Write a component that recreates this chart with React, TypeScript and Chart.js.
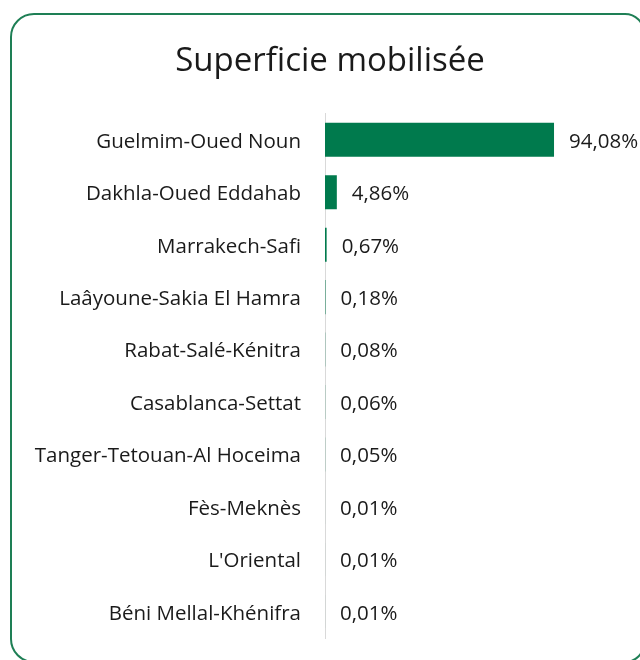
import React, { useEffect, useRef } from "react";
import { Chart, registerables } from "chart.js";

Chart.register(...registerables);

const chartTitle = "Superficie mobilisée";
const regions = [
  "Guelmim-Oued Noun",
  "Dakhla-Oued Eddahab",
  "Marrakech-Safi",
  "Laâyoune-Sakia El Hamra",
  "Rabat-Salé-Kénitra",
  "Casablanca-Settat",
  "Tanger-Tetouan-Al Hoceima",
  "Fès-Meknès",
  "L'Oriental",
  "Béni Mellal-Khénifra",
];
const shares = [94.08, 4.86, 0.67, 0.18, 0.08, 0.06, 0.05, 0.01, 0.01, 0.01];

const fmt = (v: number) => v.toFixed(2).replace(".", ",") + "%";
const FONT = "'Open Sans', Lato, sans-serif";
const GREEN = "#007A4D";
const LABEL_SIZE = 20.5;

export default function App() {
  const ref = useRef<HTMLCanvasElement>(null);
  useEffect(() => {
    if (!ref.current) return;
    const valuePlugin = {
      id: "valueLabels",
      afterDatasetsDraw(chart: any) {
        const ctx = chart.ctx;
        const meta = chart.getDatasetMeta(0);
        ctx.save();
        ctx.font = `${LABEL_SIZE}px ${FONT}`;
        ctx.fillStyle = "#1a1a1a";
        ctx.textBaseline = "middle";
        ctx.textAlign = "left";
        meta.data.forEach((bar: any, i: number) => {
          ctx.fillText(fmt(shares[i]), bar.x + 15, bar.y + 2);
        });
        ctx.restore();
      },
    };
    const chart = new Chart(ref.current, {
      type: "bar",
      data: {
        labels: regions,
        datasets: [
          {
            data: shares,
            backgroundColor: GREEN,
            borderWidth: 0,
            categoryPercentage: 1,
            barPercentage: 0.65,
          },
        ],
      },
      options: {
        indexAxis: "y",
        animation: false,
        responsive: false,
        maintainAspectRatio: false,
        layout: { padding: { top: 0, right: 0, bottom: 22, left: 20 } },
        plugins: {
          legend: { display: false },
          tooltip: { enabled: false },
          title: {
            display: true,
            text: chartTitle,
            color: "#1a1a1a",
            font: { family: FONT, size: 33, weight: "normal" as any, lineHeight: 1.2 },
            padding: { top: 42, bottom: 32 },
          },
        },
        scales: {
          x: { display: false, min: 0, max: 129.4 },
          y: {
            position: "left",
            grid: { display: false, drawTicks: false },
            border: { display: true, color: "#d9d9d9", width: 1 },
            ticks: {
              color: "#1a1a1a",
              padding: 24,
              labelOffset: 2,
              font: { family: FONT, size: LABEL_SIZE },
            },
            afterFit(scale: any) {
              scale.width = 305;
              scale.paddingTop = 0;
              scale.paddingBottom = 0;
            },
          },
        },
      },
      plugins: [valuePlugin],
    });
    return () => chart.destroy();
  }, []);

  return (
    <div
      style={{
        position: "fixed",
        left: 0,
        top: 0,
        width: 640,
        height: 660,
        background: "#fff",
        overflow: "hidden",
      }}
    >
      <div
        style={{
          position: "absolute",
          left: 10,
          top: 13,
          width: 635,
          height: 650,
          border: "2px solid #1E7F55",
          borderRadius: "24px 20px 20px 24px",
          boxSizing: "border-box",
        }}
      />
      <canvas
        ref={ref}
        width={640}
        height={660}
        style={{ position: "absolute", left: 0, top: 0 }}
      />
    </div>
  );
}
